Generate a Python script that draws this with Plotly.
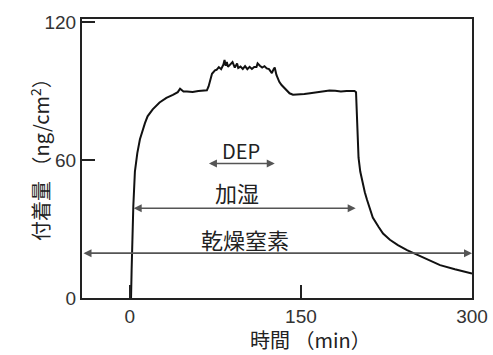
import plotly.graph_objects as go

# Time (min) and deposited amount (ng/cm^2)
time_min = [0, 1.0, 1.5, 2.2, 3.0, 4.4, 6.5, 8.8, 11, 13.2, 15.5, 20, 26, 32, 37.7, 42, 44, 45.6,
            47, 50, 55, 60, 65, 67.5, 69, 70, 72, 74.6, 76, 78, 80, 82, 83, 84, 85, 86, 88, 90,
            92, 94, 95, 97, 99, 101, 103, 105, 107, 109, 111, 112, 114, 116, 118, 120, 122,
            124.5, 126, 127, 128.5, 131, 133, 135.5, 137.7, 140, 143, 148, 153, 158, 163, 169,
            175, 180, 185, 190, 194, 197, 198.3, 198.8, 199.5, 200.5, 202, 203.5, 206, 208, 213,
            218, 222, 228, 235, 243, 252, 262, 272, 285, 298, 300]
amount = [0, 0, 12, 28, 40, 55, 63, 69, 73, 76, 79, 82, 85, 87, 88.3, 89.5, 91, 90.2,
          89.8, 89.8, 89.6, 90, 90, 90.3, 92, 94, 97.5, 99, 99.2, 100.4, 99.5, 101.5, 103.5, 101, 102.6, 100.5, 101.5, 102.6,
          100.2, 102, 100, 100.6, 99.6, 100.8, 99.5, 100.5, 99.6, 100.4, 100.4, 102, 101, 100.2, 100.8, 99.8, 99.5,
          97.8, 99.5, 100.2, 97, 94, 92.6, 91.3, 90.2, 89, 88.4, 88.4, 88.7, 89, 89.4, 90,
          90.2, 90.1, 89.8, 90, 90, 90, 89.5, 82, 68, 61, 55, 51, 46, 42.6, 35,
          31, 28, 25.3, 23, 20.8, 18.7, 16.5, 14.3, 12.5, 10.9, 10.6]

x_ticks = [0, 150, 300]
y_ticks = [0, 60, 120]

# Period markers
periods_label = ["DEP", "加湿", "乾燥窒素"]
periods_start = [68, 2, -42]
periods_end = [127, 198, 300]
periods_level = [58.5, 39, 19.5]
label_level = [64, 46, 25.5]
label_x = [97, 94, 101]
label_size = [20, 22, 22]

fig = go.Figure()
fig.add_trace(go.Scatter(x=time_min, y=amount, mode="lines",
                         line=dict(color="#111111", width=2), showlegend=False,
                         hoverinfo="skip"))

for lab, s, e, lv, tl, tx, fs in zip(periods_label, periods_start, periods_end, periods_level,
                                     label_level, label_x, label_size):
    fig.add_annotation(x=e, y=lv, ax=s, ay=lv, xref="x", yref="y", axref="x", ayref="y",
                       showarrow=True, arrowhead=2, arrowside="end+start", arrowsize=1,
                       arrowwidth=1.6, arrowcolor="#555555", text="", standoff=0,
                       startstandoff=0)
    fig.add_annotation(x=tx, y=tl, xref="x", yref="y",
                       text=lab, showarrow=False,
                       font=dict(size=fs,
                                 family="Noto Sans CJK JP, Liberation Sans, Arial",
                                 color="#222222"))

# Axis titles
fig.add_annotation(text="時間 （min）", xref="paper", yref="paper", x=0.585, y=-0.15,
                   xanchor="center", yanchor="middle", showarrow=False,
                   font=dict(size=20, family="Noto Sans CJK JP", color="#222222"))
fig.add_annotation(text="付着量 （ng/cm<sup>2</sup>）", xref="paper", yref="paper",
                   x=-0.108, y=0.516, xanchor="center", yanchor="middle", textangle=-90,
                   showarrow=False,
                   font=dict(size=20, family="Noto Sans CJK JP", color="#222222"))

fig.update_layout(
    width=493, height=355,
    margin=dict(l=82, r=21, t=19, b=57, autoexpand=False),
    paper_bgcolor="white", plot_bgcolor="white",
    font=dict(family="Liberation Sans, Arial", color="#333333"),
    xaxis=dict(range=[-42, 300], tickvals=x_ticks, ticks="inside", ticklen=13,
               tickwidth=2, tickcolor="#222222", showline=True, linecolor="#222222",
               linewidth=2, mirror=True, showgrid=False, zeroline=False, automargin=False,
               tickfont=dict(size=19, color="#333333")),
    yaxis=dict(range=[0, 121.3], tickvals=y_ticks, ticks="inside", ticklen=13,
               tickwidth=2, tickcolor="#222222", showline=True, linecolor="#222222",
               linewidth=2, mirror=True, showgrid=False, zeroline=False, automargin=False,
               tickfont=dict(size=19, color="#333333")),
)

fig.write_html("out.html", config={"displayModeBar": False},
               post_script="document.body.style.margin='0';document.body.style.overflow='hidden';")
